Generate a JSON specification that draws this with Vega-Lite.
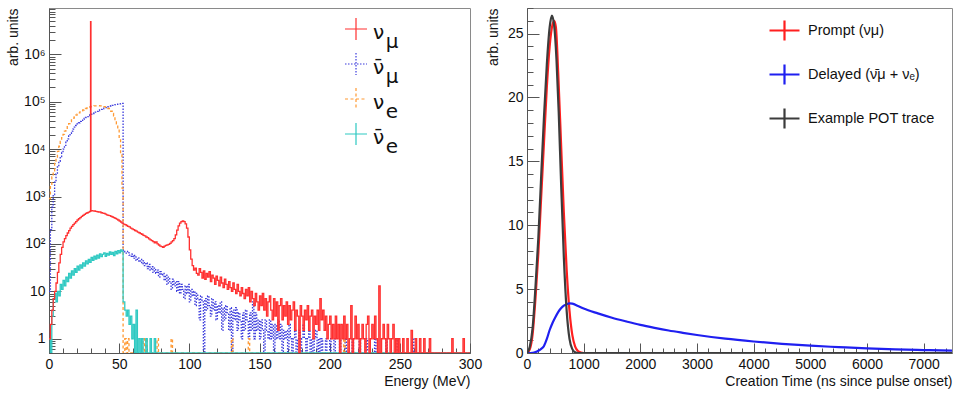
{
"$schema": "https://vega.github.io/schema/vega-lite/v6.json",
"padding": {"left": 5, "top": 0, "right": 0, "bottom": 0},
"spacing": 57,
"bounds": "flush",
"resolve": {"scale": {"color": "independent", "strokeDash": "independent", "strokeWidth": "independent"}, "legend": {"color": "independent", "strokeDash": "independent"}},
"config": {
  "font": "Liberation Sans",
  "view": {"stroke": "#8a8a8a", "strokeWidth": 1},
  "axis": {"grid": false, "labelFont": "Liberation Sans", "titleFont": "Liberation Sans", "labelFontSize": 14, "titleFontSize": 14, "titleFontWeight": "normal", "labelColor": "#111", "titleColor": "#111", "domainColor": "#555", "tickColor": "#555", "labelFlush": false, "labelOverlap": false, "labelBound": false},
  "legend": {"labelFont": "Liberation Sans", "labelColor": "#111", "padding": 0}
},
"datasets": {
"left": [
{"s":"b","e":0,"v":10},{"s":"b","e":1,"v":200},{"s":"b","e":2,"v":600},{"s":"b","e":3,"v":1100},{"s":"b","e":4,"v":2000},{"s":"b","e":5,"v":3000},{"s":"b","e":6,"v":4200},{"s":"b","e":7,"v":5500},{"s":"b","e":8,"v":7000},{"s":"b","e":9,"v":8500},{"s":"b","e":10,"v":10000},{"s":"b","e":11,"v":12000},{"s":"b","e":12,"v":14000},{"s":"b","e":13,"v":16500},{"s":"b","e":14,"v":19000},{"s":"b","e":15,"v":21500},{"s":"b","e":16,"v":24000},{"s":"b","e":17,"v":26500},{"s":"b","e":18,"v":29000},{"s":"b","e":19,"v":31500},{"s":"b","e":20,"v":34000},{"s":"b","e":21,"v":36000},{"s":"b","e":22,"v":38500},{"s":"b","e":23,"v":40500},{"s":"b","e":24,"v":42500},{"s":"b","e":25,"v":44500},{"s":"b","e":26,"v":46500},{"s":"b","e":27,"v":48500},{"s":"b","e":28,"v":50500},{"s":"b","e":29,"v":52500},{"s":"b","e":30,"v":54500},{"s":"b","e":31,"v":56500},{"s":"b","e":32,"v":58500},{"s":"b","e":33,"v":60500},{"s":"b","e":34,"v":62500},{"s":"b","e":35,"v":64500},{"s":"b","e":36,"v":67000},{"s":"b","e":37,"v":69000},{"s":"b","e":38,"v":71000},{"s":"b","e":39,"v":73000},{"s":"b","e":40,"v":75000},{"s":"b","e":41,"v":77000},{"s":"b","e":42,"v":79000},{"s":"b","e":43,"v":81000},{"s":"b","e":44,"v":82500},{"s":"b","e":45,"v":84000},{"s":"b","e":46,"v":85500},{"s":"b","e":47,"v":87000},{"s":"b","e":48,"v":88000},{"s":"b","e":49,"v":89000},{"s":"b","e":50,"v":90000},{"s":"b","e":51,"v":91000},{"s":"b","e":52,"v":92000},{"s":"b","e":52.8,"v":75},
{"s":"b","e":53,"v":72},{"s":"b","e":54,"v":68},{"s":"b","e":55,"v":64},{"s":"b","e":56,"v":70},{"s":"b","e":57,"v":58},{"s":"b","e":58,"v":55},{"s":"b","e":59,"v":61},{"s":"b","e":60,"v":50},{"s":"b","e":61,"v":57},{"s":"b","e":62,"v":45},{"s":"b","e":63,"v":51},{"s":"b","e":64,"v":42},{"s":"b","e":65,"v":47},{"s":"b","e":66,"v":38},{"s":"b","e":67,"v":44},{"s":"b","e":68,"v":35},{"s":"b","e":69,"v":40},{"s":"b","e":70,"v":30},{"s":"b","e":71,"v":37},{"s":"b","e":72,"v":28},{"s":"b","e":73,"v":33},{"s":"b","e":74,"v":25},{"s":"b","e":75,"v":31},{"s":"b","e":76,"v":24},{"s":"b","e":77,"v":28},{"s":"b","e":78,"v":20},{"s":"b","e":79,"v":26},{"s":"b","e":80,"v":22},{"s":"b","e":81,"v":24},{"s":"b","e":82,"v":17},{"s":"b","e":83,"v":22},{"s":"b","e":84,"v":14},{"s":"b","e":85,"v":20},{"s":"b","e":86,"v":16},{"s":"b","e":87,"v":11},{"s":"b","e":88,"v":18},{"s":"b","e":89,"v":13},{"s":"b","e":90,"v":16},{"s":"b","e":91,"v":10},{"s":"b","e":92,"v":16},{"s":"b","e":93,"v":9},{"s":"b","e":94,"v":14},{"s":"b","e":95,"v":11},{"s":"b","e":96,"v":7},{"s":"b","e":97,"v":13},{"s":"b","e":98,"v":9},{"s":"b","e":99,"v":14},{"s":"b","e":100,"v":6},{"s":"b","e":101,"v":11},{"s":"b","e":102,"v":8},{"s":"b","e":103,"v":10},{"s":"b","e":104,"v":5},{"s":"b","e":105,"v":9},{"s":"b","e":106,"v":7},{"s":"b","e":107,"v":2.5},{"s":"b","e":108,"v":8},{"s":"b","e":109,"v":6},{"s":"b","e":110,"v":0.5},{"s":"b","e":111,"v":7},{"s":"b","e":112,"v":4},{"s":"b","e":113,"v":8},{"s":"b","e":114,"v":5},{"s":"b","e":115,"v":3},{"s":"b","e":116,"v":7},{"s":"b","e":117,"v":4},{"s":"b","e":118,"v":6},{"s":"b","e":119,"v":2.5},{"s":"b","e":120,"v":5},{"s":"b","e":121,"v":3.5},{"s":"b","e":122,"v":6},{"s":"b","e":123,"v":1.5},{"s":"b","e":124,"v":4.5},{"s":"b","e":125,"v":2.5},{"s":"b","e":126,"v":5},{"s":"b","e":127,"v":3.5},{"s":"b","e":128,"v":1.5},{"s":"b","e":129,"v":4.5},{"s":"b","e":130,"v":0.5},{"s":"b","e":131,"v":4},{"s":"b","e":132,"v":2.5},{"s":"b","e":133,"v":4.5},{"s":"b","e":134,"v":1.5},{"s":"b","e":135,"v":3.5},{"s":"b","e":136,"v":2.5},{"s":"b","e":137,"v":1},{"s":"b","e":138,"v":3.5},{"s":"b","e":139,"v":1.5},{"s":"b","e":140,"v":4},{"s":"b","e":141,"v":2.5},{"s":"b","e":142,"v":1},{"s":"b","e":143,"v":3.5},{"s":"b","e":144,"v":1.5},{"s":"b","e":145,"v":6},{"s":"b","e":146,"v":1},{"s":"b","e":147,"v":3.5},{"s":"b","e":148,"v":1.5},{"s":"b","e":149,"v":2.5},{"s":"b","e":150,"v":1},{"s":"b","e":151,"v":2.5},{"s":"b","e":152,"v":1.5},{"s":"b","e":153,"v":0.5},{"s":"b","e":154,"v":2.5},{"s":"b","e":155,"v":1.5},{"s":"b","e":156,"v":1},{"s":"b","e":157,"v":2.5},{"s":"b","e":158,"v":1},{"s":"b","e":159,"v":2},{"s":"b","e":160,"v":0.5},{"s":"b","e":161,"v":2},{"s":"b","e":162,"v":1},{"s":"b","e":163,"v":2.5},{"s":"b","e":164,"v":1},{"s":"b","e":165,"v":2},{"s":"b","e":166,"v":0.5},{"s":"b","e":167,"v":1.5},{"s":"b","e":168,"v":1},{"s":"b","e":169,"v":1.5},{"s":"b","e":170,"v":0.5},{"s":"b","e":171,"v":2},{"s":"b","e":172,"v":1},{"s":"b","e":173,"v":0.5},{"s":"b","e":174,"v":1},{"s":"b","e":175,"v":1.5},{"s":"b","e":176,"v":0.5},{"s":"b","e":177,"v":1},{"s":"b","e":178,"v":1.5},{"s":"b","e":179,"v":0.5},{"s":"b","e":180,"v":1},{"s":"b","e":181,"v":2},{"s":"b","e":182,"v":1},{"s":"b","e":183,"v":0.5},{"s":"b","e":184,"v":1},{"s":"b","e":185,"v":1.5},{"s":"b","e":186,"v":0.5},{"s":"b","e":187,"v":1},{"s":"b","e":188,"v":0.5},{"s":"b","e":189,"v":1},{"s":"b","e":190,"v":1.5},{"s":"b","e":191,"v":0.5},{"s":"b","e":192,"v":1},{"s":"b","e":193,"v":0.5},{"s":"b","e":194,"v":1},{"s":"b","e":195,"v":0.5},{"s":"b","e":197,"v":1},{"s":"b","e":198,"v":0.5},{"s":"b","e":200,"v":1},{"s":"b","e":201,"v":0.5},{"s":"b","e":203,"v":1},{"s":"b","e":204,"v":0.5},{"s":"b","e":207,"v":1},{"s":"b","e":208,"v":0.5},{"s":"b","e":211,"v":1},{"s":"b","e":212,"v":0.5},{"s":"b","e":216,"v":1},{"s":"b","e":217,"v":0.5},{"s":"b","e":221,"v":1},{"s":"b","e":222,"v":0.5},{"s":"b","e":226,"v":1},{"s":"b","e":227,"v":0.5},{"s":"b","e":232,"v":1},{"s":"b","e":233,"v":0.5},{"s":"b","e":240,"v":1},{"s":"b","e":241,"v":0.5},{"s":"b","e":248,"v":1},{"s":"b","e":249,"v":0.5},{"s":"b","e":259,"v":1},{"s":"b","e":260,"v":0.5},{"s":"b","e":300,"v":0.5},
{"s":"c","e":0,"v":900},{"s":"c","e":1,"v":1800},{"s":"c","e":2,"v":2600},{"s":"c","e":3,"v":3500},{"s":"c","e":4,"v":5000},{"s":"c","e":5,"v":6800},{"s":"c","e":6,"v":9000},{"s":"c","e":7,"v":11500},{"s":"c","e":8,"v":14500},{"s":"c","e":9,"v":17500},{"s":"c","e":10,"v":20500},{"s":"c","e":11,"v":24000},{"s":"c","e":12,"v":27500},{"s":"c","e":13,"v":31000},{"s":"c","e":14,"v":34500},{"s":"c","e":15,"v":38000},{"s":"c","e":16,"v":41500},{"s":"c","e":17,"v":45000},{"s":"c","e":18,"v":48500},{"s":"c","e":19,"v":52000},{"s":"c","e":20,"v":55000},{"s":"c","e":21,"v":58000},{"s":"c","e":22,"v":61000},{"s":"c","e":23,"v":64000},{"s":"c","e":24,"v":67000},{"s":"c","e":25,"v":69500},{"s":"c","e":26,"v":72000},{"s":"c","e":27,"v":74000},{"s":"c","e":28,"v":76000},{"s":"c","e":29,"v":78000},{"s":"c","e":30,"v":79500},{"s":"c","e":31,"v":80500},{"s":"c","e":32,"v":81500},{"s":"c","e":33,"v":82000},{"s":"c","e":34,"v":82500},{"s":"c","e":35,"v":82500},{"s":"c","e":36,"v":82000},{"s":"c","e":37,"v":81500},{"s":"c","e":38,"v":80500},{"s":"c","e":39,"v":79000},{"s":"c","e":40,"v":77500},{"s":"c","e":41,"v":75000},{"s":"c","e":42,"v":72000},{"s":"c","e":43,"v":68000},{"s":"c","e":44,"v":63000},{"s":"c","e":45,"v":57000},{"s":"c","e":46,"v":50000},{"s":"c","e":47,"v":42000},{"s":"c","e":48,"v":34000},{"s":"c","e":49,"v":26000},{"s":"c","e":50,"v":17000},{"s":"c","e":51,"v":8000},{"s":"c","e":52,"v":1500},{"s":"c","e":52.8,"v":0.5},{"s":"c","e":54,"v":1},{"s":"c","e":55,"v":0.5},{"s":"c","e":56,"v":1},{"s":"c","e":57,"v":0.5},{"s":"c","e":67,"v":1},{"s":"c","e":68,"v":0.5},{"s":"c","e":69,"v":1},{"s":"c","e":70,"v":0.5},{"s":"c","e":77,"v":1},{"s":"c","e":78,"v":0.5},{"s":"c","e":87,"v":1},{"s":"c","e":88,"v":0.5},{"s":"c","e":130,"v":1},{"s":"c","e":131,"v":0.5},{"s":"c","e":142,"v":1},{"s":"c","e":143,"v":0.5},{"s":"c","e":210,"v":1},{"s":"c","e":211,"v":0.5},{"s":"c","e":300,"v":0.5},
{"s":"d","e":0,"v":1},{"s":"d","e":1,"v":0.5},{"s":"d","e":2,"v":3},{"s":"d","e":3,"v":7},{"s":"d","e":4,"v":9},{"s":"d","e":5,"v":6},{"s":"d","e":6,"v":10},{"s":"d","e":7,"v":8},{"s":"d","e":8,"v":14},{"s":"d","e":9,"v":11},{"s":"d","e":10,"v":17},{"s":"d","e":11,"v":13},{"s":"d","e":12,"v":20},{"s":"d","e":13,"v":16},{"s":"d","e":14,"v":24},{"s":"d","e":15,"v":19},{"s":"d","e":16,"v":27},{"s":"d","e":17,"v":22},{"s":"d","e":18,"v":30},{"s":"d","e":19,"v":25},{"s":"d","e":20,"v":34},{"s":"d","e":21,"v":28},{"s":"d","e":22,"v":36},{"s":"d","e":23,"v":31},{"s":"d","e":24,"v":40},{"s":"d","e":25,"v":34},{"s":"d","e":26,"v":44},{"s":"d","e":27,"v":38},{"s":"d","e":28,"v":47},{"s":"d","e":29,"v":41},{"s":"d","e":30,"v":52},{"s":"d","e":31,"v":45},{"s":"d","e":32,"v":55},{"s":"d","e":33,"v":48},{"s":"d","e":34,"v":58},{"s":"d","e":35,"v":50},{"s":"d","e":36,"v":62},{"s":"d","e":37,"v":54},{"s":"d","e":38,"v":60},{"s":"d","e":39,"v":65},{"s":"d","e":40,"v":55},{"s":"d","e":41,"v":63},{"s":"d","e":42,"v":58},{"s":"d","e":43,"v":68},{"s":"d","e":44,"v":60},{"s":"d","e":45,"v":66},{"s":"d","e":46,"v":57},{"s":"d","e":47,"v":70},{"s":"d","e":48,"v":62},{"s":"d","e":49,"v":72},{"s":"d","e":50,"v":65},{"s":"d","e":51,"v":75},{"s":"d","e":52,"v":70},{"s":"d","e":52.8,"v":6},{"s":"d","e":54,"v":4},{"s":"d","e":55,"v":3},{"s":"d","e":56,"v":4},{"s":"d","e":57,"v":2},{"s":"d","e":58,"v":3},{"s":"d","e":59,"v":1},{"s":"d","e":60,"v":2},{"s":"d","e":61,"v":0.5},{"s":"d","e":62,"v":4},{"s":"d","e":63,"v":0.5},{"s":"d","e":64,"v":1},{"s":"d","e":65,"v":0.5},{"s":"d","e":66,"v":1},{"s":"d","e":67,"v":0.5},{"s":"d","e":69,"v":1},{"s":"d","e":70,"v":0.5},{"s":"d","e":72,"v":1},{"s":"d","e":73,"v":0.5},{"s":"d","e":75,"v":1},{"s":"d","e":76,"v":0.5},{"s":"d","e":300,"v":0.5},
{"s":"a","e":0,"v":1},{"s":"a","e":1,"v":2},{"s":"a","e":2,"v":4},{"s":"a","e":3,"v":7},{"s":"a","e":4,"v":10},{"s":"a","e":5,"v":15},{"s":"a","e":6,"v":25},{"s":"a","e":7,"v":40},{"s":"a","e":8,"v":60},{"s":"a","e":9,"v":85},{"s":"a","e":10,"v":110},{"s":"a","e":11,"v":130},{"s":"a","e":12,"v":150},{"s":"a","e":13,"v":170},{"s":"a","e":14,"v":190},{"s":"a","e":15,"v":215},{"s":"a","e":16,"v":235},{"s":"a","e":17,"v":255},{"s":"a","e":18,"v":275},{"s":"a","e":19,"v":295},{"s":"a","e":20,"v":320},{"s":"a","e":21,"v":340},{"s":"a","e":22,"v":360},{"s":"a","e":23,"v":380},{"s":"a","e":24,"v":400},{"s":"a","e":25,"v":420},{"s":"a","e":26,"v":440},{"s":"a","e":27,"v":455},{"s":"a","e":28,"v":470},{"s":"a","e":29,"v":485},{"s":"a","e":29.6,"v":4900000},{"s":"a","e":29.9,"v":490},{"s":"a","e":30,"v":505},{"s":"a","e":31,"v":500},{"s":"a","e":32,"v":495},{"s":"a","e":33,"v":485},{"s":"a","e":34,"v":480},{"s":"a","e":35,"v":470},{"s":"a","e":36,"v":475},{"s":"a","e":37,"v":455},{"s":"a","e":38,"v":445},{"s":"a","e":39,"v":440},{"s":"a","e":40,"v":425},{"s":"a","e":41,"v":410},{"s":"a","e":42,"v":400},{"s":"a","e":43,"v":395},{"s":"a","e":44,"v":380},{"s":"a","e":45,"v":370},{"s":"a","e":46,"v":360},{"s":"a","e":47,"v":345},{"s":"a","e":48,"v":335},{"s":"a","e":49,"v":320},{"s":"a","e":50,"v":305},{"s":"a","e":51,"v":290},{"s":"a","e":52,"v":275},{"s":"a","e":53,"v":262},{"s":"a","e":54,"v":255},{"s":"a","e":55,"v":245},{"s":"a","e":56,"v":235},{"s":"a","e":57,"v":228},{"s":"a","e":58,"v":215},{"s":"a","e":59,"v":208},{"s":"a","e":60,"v":200},{"s":"a","e":61,"v":192},{"s":"a","e":62,"v":186},{"s":"a","e":63,"v":178},{"s":"a","e":64,"v":172},{"s":"a","e":65,"v":165},{"s":"a","e":66,"v":160},{"s":"a","e":67,"v":152},{"s":"a","e":68,"v":148},{"s":"a","e":69,"v":140},{"s":"a","e":70,"v":136},{"s":"a","e":71,"v":128},{"s":"a","e":72,"v":122},{"s":"a","e":73,"v":118},{"s":"a","e":74,"v":112},{"s":"a","e":75,"v":106},{"s":"a","e":76,"v":110},{"s":"a","e":77,"v":100},{"s":"a","e":78,"v":95},{"s":"a","e":79,"v":90},{"s":"a","e":80,"v":88},{"s":"a","e":81,"v":85},{"s":"a","e":82,"v":90},{"s":"a","e":83,"v":93},{"s":"a","e":84,"v":96},{"s":"a","e":85,"v":98},{"s":"a","e":86,"v":103},{"s":"a","e":87,"v":110},{"s":"a","e":88,"v":118},{"s":"a","e":89,"v":130},{"s":"a","e":90,"v":155},{"s":"a","e":91,"v":195},{"s":"a","e":92,"v":240},{"s":"a","e":93,"v":275},{"s":"a","e":94,"v":295},{"s":"a","e":95,"v":305},{"s":"a","e":96,"v":295},{"s":"a","e":97,"v":265},{"s":"a","e":98,"v":215},{"s":"a","e":99,"v":140},{"s":"a","e":100,"v":75},{"s":"a","e":101,"v":48},{"s":"a","e":102,"v":35},{"s":"a","e":103,"v":28},{"s":"a","e":104,"v":31},{"s":"a","e":105,"v":24},
{"s":"a","e":106,"v":22},{"s":"a","e":107,"v":30},{"s":"a","e":108,"v":25},{"s":"a","e":109,"v":19},{"s":"a","e":110,"v":27},{"s":"a","e":111,"v":18},{"s":"a","e":112,"v":24},{"s":"a","e":113,"v":20},{"s":"a","e":114,"v":26},{"s":"a","e":115,"v":16},{"s":"a","e":116,"v":22},{"s":"a","e":117,"v":19},{"s":"a","e":118,"v":14},{"s":"a","e":119,"v":21},{"s":"a","e":120,"v":17},{"s":"a","e":121,"v":13},{"s":"a","e":122,"v":20},{"s":"a","e":123,"v":15},{"s":"a","e":124,"v":12},{"s":"a","e":125,"v":18},{"s":"a","e":126,"v":14},{"s":"a","e":127,"v":11},{"s":"a","e":128,"v":16},{"s":"a","e":129,"v":12},{"s":"a","e":130,"v":10},{"s":"a","e":131,"v":15},{"s":"a","e":132,"v":11},{"s":"a","e":133,"v":9},{"s":"a","e":134,"v":14},{"s":"a","e":135,"v":10},{"s":"a","e":136,"v":8},{"s":"a","e":137,"v":12},{"s":"a","e":138,"v":9},{"s":"a","e":139,"v":7},{"s":"a","e":140,"v":11},{"s":"a","e":141,"v":8},{"s":"a","e":142,"v":12},{"s":"a","e":143,"v":6},{"s":"a","e":144,"v":10},{"s":"a","e":145,"v":7},{"s":"a","e":146,"v":5},{"s":"a","e":147,"v":9},{"s":"a","e":148,"v":6},{"s":"a","e":149,"v":4},{"s":"a","e":150,"v":8},{"s":"a","e":151,"v":5},{"s":"a","e":152,"v":9},{"s":"a","e":153,"v":4},{"s":"a","e":154,"v":7},{"s":"a","e":155,"v":3},{"s":"a","e":156,"v":6},{"s":"a","e":157,"v":8},{"s":"a","e":158,"v":4},{"s":"a","e":159,"v":2.5},{"s":"a","e":160,"v":7},{"s":"a","e":161,"v":3},{"s":"a","e":162,"v":6},{"s":"a","e":163,"v":1.5},{"s":"a","e":164,"v":5},{"s":"a","e":165,"v":7},{"s":"a","e":166,"v":2.5},{"s":"a","e":167,"v":5},{"s":"a","e":168,"v":3},{"s":"a","e":169,"v":6},{"s":"a","e":170,"v":2},{"s":"a","e":171,"v":5},{"s":"a","e":172,"v":2.5},{"s":"a","e":173,"v":4},{"s":"a","e":174,"v":6},{"s":"a","e":175,"v":1.5},{"s":"a","e":176,"v":4},{"s":"a","e":177,"v":3},{"s":"a","e":178,"v":0.5},{"s":"a","e":179,"v":5},{"s":"a","e":180,"v":3},{"s":"a","e":181,"v":1.5},{"s":"a","e":182,"v":4},{"s":"a","e":183,"v":2.5},{"s":"a","e":184,"v":5},{"s":"a","e":185,"v":1.5},{"s":"a","e":186,"v":3},{"s":"a","e":187,"v":4},{"s":"a","e":188,"v":1},{"s":"a","e":189,"v":3},{"s":"a","e":190,"v":2},{"s":"a","e":191,"v":4},{"s":"a","e":192,"v":1.5},{"s":"a","e":193,"v":7},{"s":"a","e":194,"v":2.5},{"s":"a","e":195,"v":4},{"s":"a","e":196,"v":1.5},{"s":"a","e":197,"v":3},{"s":"a","e":198,"v":1},{"s":"a","e":199,"v":2},{"s":"a","e":200,"v":3},{"s":"a","e":201,"v":1},{"s":"a","e":202,"v":2},{"s":"a","e":203,"v":1},{"s":"a","e":204,"v":3},{"s":"a","e":205,"v":1},{"s":"a","e":206,"v":2},{"s":"a","e":207,"v":0.5},{"s":"a","e":208,"v":2},{"s":"a","e":209,"v":1},{"s":"a","e":210,"v":3},{"s":"a","e":211,"v":1},{"s":"a","e":212,"v":2},{"s":"a","e":213,"v":0.5},{"s":"a","e":214,"v":1},{"s":"a","e":215,"v":5},{"s":"a","e":216,"v":0.5},{"s":"a","e":217,"v":1},{"s":"a","e":218,"v":3},{"s":"a","e":219,"v":1},{"s":"a","e":220,"v":2},{"s":"a","e":221,"v":0.5},{"s":"a","e":222,"v":1},{"s":"a","e":223,"v":2},{"s":"a","e":224,"v":1},{"s":"a","e":225,"v":0.5},{"s":"a","e":226,"v":2},{"s":"a","e":227,"v":3},{"s":"a","e":228,"v":0.5},{"s":"a","e":229,"v":1},{"s":"a","e":230,"v":2},{"s":"a","e":231,"v":1},{"s":"a","e":232,"v":3},{"s":"a","e":233,"v":1},{"s":"a","e":234,"v":0.5},{"s":"a","e":235,"v":13},{"s":"a","e":236,"v":0.5},{"s":"a","e":237,"v":1},{"s":"a","e":238,"v":2},{"s":"a","e":239,"v":1},{"s":"a","e":240,"v":0.5},{"s":"a","e":241,"v":2},{"s":"a","e":242,"v":1},{"s":"a","e":243,"v":0.5},{"s":"a","e":244,"v":1},{"s":"a","e":245,"v":2},{"s":"a","e":246,"v":0.5},{"s":"a","e":247,"v":1},{"s":"a","e":248,"v":0.5},{"s":"a","e":249,"v":1},{"s":"a","e":250,"v":0.5},{"s":"a","e":252,"v":1},{"s":"a","e":253,"v":0.5},{"s":"a","e":255,"v":1},{"s":"a","e":256,"v":0.5},{"s":"a","e":258,"v":1.5},{"s":"a","e":259,"v":0.5},{"s":"a","e":261,"v":1},{"s":"a","e":262,"v":0.5},{"s":"a","e":264,"v":1},{"s":"a","e":265,"v":0.5},{"s":"a","e":267,"v":1},{"s":"a","e":268,"v":0.5},{"s":"a","e":271,"v":1},{"s":"a","e":272,"v":0.5},{"s":"a","e":287,"v":1},{"s":"a","e":288,"v":0.5},{"s":"a","e":295,"v":1},{"s":"a","e":296,"v":0.5},{"s":"a","e":300,"v":0.5}
],
"right": [
{"r":"p","t":0,"v":0},{"r":"p","t":50,"v":0.3},{"r":"p","t":100,"v":1.5},{"r":"p","t":150,"v":4.3},{"r":"p","t":200,"v":7.8},{"r":"p","t":250,"v":12.2},{"r":"p","t":300,"v":16.5},{"r":"p","t":350,"v":20.8},{"r":"p","t":400,"v":24},{"r":"p","t":450,"v":25.7},{"r":"p","t":480,"v":26},{"r":"p","t":510,"v":25.5},{"r":"p","t":550,"v":22},{"r":"p","t":600,"v":16.5},{"r":"p","t":650,"v":11},{"r":"p","t":700,"v":6.5},{"r":"p","t":750,"v":3.3},{"r":"p","t":800,"v":1.4},{"r":"p","t":850,"v":0.5},{"r":"p","t":900,"v":0.15},{"r":"p","t":950,"v":0.04},{"r":"p","t":1000,"v":0},{"r":"p","t":7500,"v":0},
{"r":"q","t":0,"v":0},{"r":"q","t":100,"v":0.02},{"r":"q","t":150,"v":0.07},{"r":"q","t":200,"v":0.17},{"r":"q","t":250,"v":0.32},{"r":"q","t":300,"v":0.55},{"r":"q","t":350,"v":1.1},{"r":"q","t":400,"v":1.8},{"r":"q","t":450,"v":2.35},{"r":"q","t":500,"v":2.8},{"r":"q","t":550,"v":3.2},{"r":"q","t":600,"v":3.5},{"r":"q","t":650,"v":3.7},{"r":"q","t":700,"v":3.82},{"r":"q","t":750,"v":3.88},{"r":"q","t":800,"v":3.86},{"r":"q","t":900,"v":3.68},{"r":"q","t":1000,"v":3.48},{"r":"q","t":1250,"v":3.1},{"r":"q","t":1500,"v":2.76},{"r":"q","t":1750,"v":2.47},{"r":"q","t":2000,"v":2.2},{"r":"q","t":2250,"v":1.97},{"r":"q","t":2500,"v":1.76},{"r":"q","t":2750,"v":1.58},{"r":"q","t":3000,"v":1.41},{"r":"q","t":3500,"v":1.12},{"r":"q","t":4000,"v":0.9},{"r":"q","t":4500,"v":0.72},{"r":"q","t":5000,"v":0.57},{"r":"q","t":5500,"v":0.46},{"r":"q","t":6000,"v":0.36},{"r":"q","t":6500,"v":0.29},{"r":"q","t":7000,"v":0.23},{"r":"q","t":7500,"v":0.18},
{"r":"k","t":0,"v":0},{"r":"k","t":50,"v":0.5},{"r":"k","t":100,"v":2},{"r":"k","t":150,"v":5.2},{"r":"k","t":200,"v":9},{"r":"k","t":250,"v":13.8},{"r":"k","t":300,"v":18.5},{"r":"k","t":350,"v":22.6},{"r":"k","t":400,"v":25.5},{"r":"k","t":440,"v":26.4},{"r":"k","t":480,"v":25.6},{"r":"k","t":520,"v":23},{"r":"k","t":560,"v":18.8},{"r":"k","t":600,"v":13.5},{"r":"k","t":650,"v":7.5},{"r":"k","t":700,"v":3.3},{"r":"k","t":750,"v":1.1},{"r":"k","t":800,"v":0.3},{"r":"k","t":850,"v":0.05},{"r":"k","t":900,"v":0},{"r":"k","t":7500,"v":0}
]
},
"hconcat": [
{
  "width": 421, "height": 345,
  "data": {"name": "left"},
  "mark": {"type": "line", "interpolate": "step-after", "strokeWidth": 1.3, "clip": true},
  "encoding": {
    "x": {"field": "e", "type": "quantitative", "scale": {"domain": [0, 300], "nice": false, "zero": false},
      "axis": {"title": "Energy (MeV)", "values": [0,10,20,30,40,50,60,70,80,90,100,110,120,130,140,150,160,170,180,190,200,210,220,230,240,250,260,270,280,290,300], "format": "d",
        "labelExpr": "datum.value % 50 == 0 ? datum.label : ''",
        "tickSize": {"condition": {"test": "datum.value % 50 == 0", "value": -10}, "value": -5},
        "labelPadding": 14, "titleX": 421, "titleY": 32, "titleAlign": "right", "titleBaseline": "alphabetic"}},
    "y": {"field": "v", "type": "quantitative", "scale": {"type": "log", "domain": [0.5, 9500000], "nice": false},
      "axis": {"title": "arb. units", "values": [0.6,0.7,0.8,0.9,1,2,3,4,5,6,7,8,9,10,20,30,40,50,60,70,80,90,100,200,300,400,500,600,700,800,900,1000,2000,3000,4000,5000,6000,7000,8000,9000,10000,20000,30000,40000,50000,60000,70000,80000,90000,100000,200000,300000,400000,500000,600000,700000,800000,900000,1000000,2000000,3000000,4000000,5000000,6000000,7000000,8000000,9000000],
        "labelExpr": "datum.value == 1 ? '1' : datum.value == 10 ? '10' : datum.value == 100 ? '10²' : datum.value == 1000 ? '10³' : datum.value == 10000 ? '10⁴' : datum.value == 100000 ? '10⁵' : datum.value == 1000000 ? '10⁶' : ''",
        "tickSize": {"condition": {"test": "indexof([1,10,100,1000,10000,100000,1000000], datum.value) >= 0", "value": -12}, "value": -6},
        "labelPadding": 16, "titleX": -32, "titleY": 0, "titleAlign": "right", "titleAngle": -90, "titleBaseline": "alphabetic"}},
    "color": {"field": "s", "type": "nominal", "scale": {"domain": ["a","b","c","d"], "range": ["#ff3030","#3a3adc","#ff9933","#2ec9c2"]},
      "legend": {"orient": "none", "legendX": 295, "legendY": 9, "title": null, "symbolType": "M-1,0H1M0,-1V1", "symbolSize": 484, "symbolStrokeWidth": 1.2, "labelFont": "DejaVu Sans", "labelFontSize": 20, "rowPadding": -2, "labelOffset": 5, "labelBaseline": "middle",
        "encode": {"labels": {"update": {"lineHeight": {"value": 9}, "dy": {"value": 4}}}},
        "labelExpr": "datum.value == 'a' ? ['ν', '\u200b\u00a0\u00a0μ'] : datum.value == 'b' ? ['ν\u0304', '\u200b\u00a0\u00a0μ'] : datum.value == 'c' ? ['ν', '\u200b\u00a0\u00a0e'] : ['ν\u0304', '\u200b\u00a0\u00a0e']"}},
    "strokeDash": {"field": "s", "type": "nominal", "scale": {"domain": ["a","b","c","d"], "range": [[1,0],[1.5,1.5],[3,2.5],[1,0]]},
      "legend": {"orient": "none", "legendX": 295, "legendY": 9, "title": null, "symbolType": "M-1,0H1M0,-1V1", "symbolSize": 484, "symbolStrokeWidth": 1.2, "labelFont": "DejaVu Sans", "labelFontSize": 20, "rowPadding": -2, "labelOffset": 5, "labelBaseline": "middle",
        "encode": {"labels": {"update": {"lineHeight": {"value": 9}, "dy": {"value": 4}}}},
        "labelExpr": "datum.value == 'a' ? ['ν', '\u200b\u00a0\u00a0μ'] : datum.value == 'b' ? ['ν\u0304', '\u200b\u00a0\u00a0μ'] : datum.value == 'c' ? ['ν', '\u200b\u00a0\u00a0e'] : ['ν\u0304', '\u200b\u00a0\u00a0e']"}}
  }
},
{
  "width": 425, "height": 345,
  "data": {"name": "right"},
  "mark": {"type": "line", "interpolate": "monotone", "clip": true},
  "encoding": {
    "x": {"field": "t", "type": "quantitative", "scale": {"domain": [0, 7500], "nice": false, "zero": false},
      "axis": {"title": "Creation Time (ns since pulse onset)", "values": [0,200,400,600,800,1000,1200,1400,1600,1800,2000,2200,2400,2600,2800,3000,3200,3400,3600,3800,4000,4200,4400,4600,4800,5000,5200,5400,5600,5800,6000,6200,6400,6600,6800,7000,7200,7400], "format": "d",
        "labelExpr": "datum.value % 1000 == 0 ? datum.label : ''",
        "tickSize": {"condition": {"test": "datum.value % 1000 == 0", "value": -10}, "value": -5},
        "labelPadding": 14, "titleX": 425, "titleY": 32, "titleAlign": "right", "titleBaseline": "alphabetic"}},
    "y": {"field": "v", "type": "quantitative", "scale": {"domain": [0, 27], "nice": false},
      "axis": {"title": "arb. units", "values": [0,1,2,3,4,5,6,7,8,9,10,11,12,13,14,15,16,17,18,19,20,21,22,23,24,25,26,27], "format": "d",
        "labelExpr": "datum.value % 5 == 0 ? datum.label : ''",
        "tickSize": {"condition": {"test": "datum.value % 5 == 0", "value": -12}, "value": -6},
        "labelPadding": 16, "titleX": -30, "titleY": 0, "titleAlign": "right", "titleAngle": -90, "titleBaseline": "alphabetic"}},
    "color": {"field": "r", "type": "nominal", "scale": {"domain": ["p","q","k"], "range": ["#ff1f1f","#1f1ff0","#3c3c3c"]},
      "legend": {"orient": "none", "legendX": 246, "legendY": 11, "title": null, "symbolType": "M-1.5,0H1.5M0,-1V1", "symbolSize": 400, "symbolStrokeWidth": 1.2, "labelFontSize": 14.5, "rowPadding": 15, "labelOffset": 12,
        "labelExpr": "datum.value == 'p' ? 'Prompt (νμ)' : datum.value == 'q' ? 'Delayed (ν\u0304μ + νₑ)' : 'Example POT trace'"}},
    "strokeWidth": {"field": "r", "type": "nominal", "scale": {"domain": ["p","q","k"], "range": [2.2, 2.2, 1.3]}, "legend": null}
  }
}
]
}
